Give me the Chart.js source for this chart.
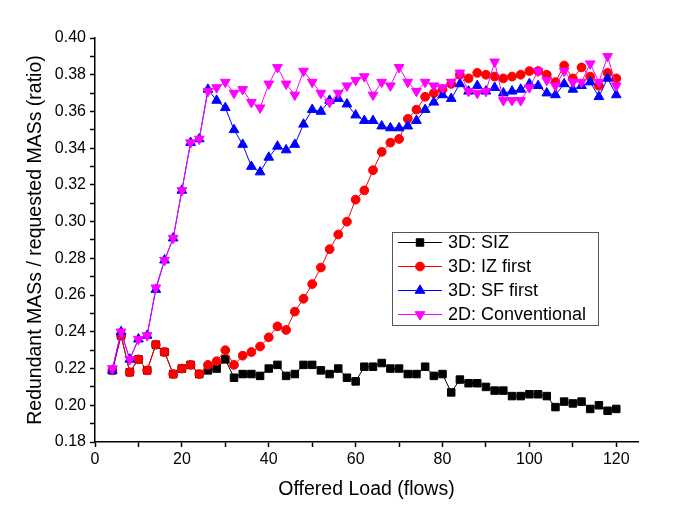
<!DOCTYPE html>
<html>
<head>
<meta charset="utf-8">
<script src="https://cdn.jsdelivr.net/npm/chart.js"></script>
<style>
  html, body { margin: 0; padding: 0; background: #fff; }
  #wrap { width: 685px; height: 509px; }
</style>
</head>
<body>
<div id="wrap"><canvas id="loadChart" width="685" height="509"></canvas></div>
<script>
const loads = [4, 6, 8, 10, 12, 14, 16, 18, 20, 22, 24, 26, 28, 30, 32, 34, 36, 38, 40,
    42, 44, 46, 48, 50, 52, 54, 56, 58, 60, 62, 64, 66, 68, 70, 72, 74, 76, 78, 80,
    82, 84, 86, 88, 90, 92, 94, 96, 98, 100, 102, 104, 106, 108, 110, 112, 114, 116, 118, 120];

const siz = [0.219, 0.238, 0.218, 0.225, 0.219, 0.233, 0.229, 0.217, 0.220, 0.222,
    0.217, 0.219, 0.220, 0.225, 0.215, 0.217, 0.217, 0.216, 0.220, 0.222,
    0.216, 0.217, 0.222, 0.222, 0.219, 0.217, 0.220, 0.215, 0.213, 0.221,
    0.221, 0.223, 0.220, 0.220, 0.217, 0.217, 0.221, 0.216, 0.217, 0.207,
    0.214, 0.212, 0.212, 0.210, 0.208, 0.208, 0.205, 0.205, 0.206, 0.206,
    0.205, 0.199, 0.202, 0.201, 0.202, 0.198, 0.200, 0.197, 0.198];

const izFirst = [0.219, 0.238, 0.218, 0.225, 0.219, 0.233, 0.229, 0.217, 0.220, 0.222,
    0.217, 0.222, 0.224, 0.230, 0.222, 0.227, 0.229, 0.232, 0.237, 0.243,
    0.241, 0.251, 0.258, 0.266, 0.275, 0.285, 0.293, 0.300, 0.312, 0.317,
    0.328, 0.338, 0.343, 0.345, 0.356, 0.361, 0.368, 0.370, 0.372, 0.375,
    0.380, 0.378, 0.381, 0.380, 0.379, 0.378, 0.379, 0.380, 0.382, 0.382,
    0.380, 0.376, 0.385, 0.378, 0.384, 0.379, 0.374, 0.381, 0.378];

const sfFirst = [0.219, 0.240, 0.225, 0.236, 0.238, 0.263, 0.279, 0.291, 0.317, 0.343,
    0.345, 0.372, 0.366, 0.362, 0.350, 0.342, 0.330, 0.327, 0.335, 0.341,
    0.339, 0.342, 0.353, 0.361, 0.360, 0.366, 0.367, 0.364, 0.358, 0.355,
    0.355, 0.352, 0.351, 0.351, 0.352, 0.355, 0.361, 0.365, 0.369, 0.367,
    0.375, 0.371, 0.374, 0.371, 0.373, 0.370, 0.371, 0.372, 0.375, 0.374,
    0.370, 0.369, 0.375, 0.372, 0.374, 0.376, 0.368, 0.378, 0.369];

const conventional = [0.220, 0.240, 0.225, 0.236, 0.238, 0.264, 0.279, 0.291, 0.317, 0.343,
    0.345, 0.371, 0.373, 0.376, 0.370, 0.372, 0.365, 0.362, 0.375, 0.384,
    0.375, 0.369, 0.382, 0.376, 0.370, 0.365, 0.370, 0.374, 0.377, 0.379,
    0.369, 0.376, 0.374, 0.384, 0.376, 0.371, 0.376, 0.374, 0.373, 0.376,
    0.381, 0.371, 0.370, 0.371, 0.387, 0.366, 0.366, 0.366, 0.373, 0.382,
    0.377, 0.374, 0.382, 0.376, 0.376, 0.386, 0.376, 0.390, 0.374];

const seriesNames = ["3D: SIZ", "3D: IZ first", "3D: SF first", "2D: Conventional"];

const FONT = '"Liberation Sans", Arial, sans-serif';

function pts(values) {
    return values.map((v, i) => ({ x: loads[i], y: v }));
}

function series(label, values, color, style, radius, rotation, order) {
    return {
        label: label,
        data: pts(values),
        borderColor: color,
        backgroundColor: color,
        borderWidth: 1,
        pointStyle: style,
        pointRadius: radius,
        pointRotation: rotation,
        pointBorderWidth: 1,
        pointBorderColor: color,
        pointBackgroundColor: color,
        tension: 0,
        order: order
    };
}

// legend drawn inside the plot, like the original
function marker(ctx, style, x, y, r, rot) {
    ctx.beginPath();
    if (style === 'rect') {
        const s = r * Math.SQRT1_2;
        ctx.rect(x - s, y - s, 2 * s, 2 * s);
    } else if (style === 'circle') {
        ctx.arc(x, y, r, 0, Math.PI * 2);
    } else {
        let a = rot * Math.PI / 180;
        for (let k = 0; k < 3; k++) {
            const px = x + Math.sin(a) * r, py = y - Math.cos(a) * r;
            if (k === 0) ctx.moveTo(px, py); else ctx.lineTo(px, py);
            a += Math.PI * 2 / 3;
        }
        ctx.closePath();
    }
    ctx.fill();
    ctx.stroke();
}

const boxLegend = {
    id: 'boxLegend',
    afterDraw(chart) {
        const ctx = chart.ctx;
        ctx.save();
        ctx.fillStyle = '#fff';
        ctx.fillRect(392, 232, 207, 93);
        ctx.strokeStyle = '#555';
        ctx.lineWidth = 1;
        ctx.strokeRect(392.5, 232.5, 206, 93);
        chart.data.datasets.forEach((ds, i) => {
            const y = 242.5 + i * 24;
            ctx.strokeStyle = ds.borderColor;
            ctx.fillStyle = ds.borderColor;
            ctx.lineWidth = 1;
            ctx.beginPath();
            ctx.moveTo(398, y);
            ctx.lineTo(442, y);
            ctx.stroke();
            marker(ctx, ds.pointStyle, 420, y, ds.pointRadius, ds.pointRotation);
            ctx.fillStyle = '#000';
            ctx.font = '18px ' + FONT;
            ctx.textBaseline = 'middle';
            ctx.textAlign = 'left';
            ctx.fillText(ds.label, 448, y + 1);
        });
        ctx.restore();
    }
};

const ctx = document.getElementById('loadChart').getContext('2d');

new Chart(ctx, {
    type: 'line',
    data: {
        datasets: [
            series(seriesNames[0], siz, '#000000', 'rect', 5.3, 0, 4),
            series(seriesNames[1], izFirst, '#ff0000', 'circle', 4.4, 0, 3),
            series(seriesNames[2], sfFirst, '#0000ff', 'triangle', 5.6, 0, 2),
            series(seriesNames[3], conventional, '#ff00ff', 'triangle', 5.6, 180, 1)
        ]
    },
    options: {
        responsive: false,
        animation: false,
        layout: { padding: { left: 0, top: 38, right: 47, bottom: 0 } },
        scales: {
            x: {
                type: 'linear',
                min: 0,
                max: 125,
                afterFit: s => { s.height = 67; },
                ticks: {
                    stepSize: 10,
                    includeBounds: false,
                    autoSkip: false,
                    maxRotation: 0,
                    padding: 3,
                    color: '#000',
                    font: { family: FONT, size: 16 },
                    callback: v => (v % 20 === 0 ? String(v) : '')
                },
                grid: {
                    drawOnChartArea: false,
                    drawTicks: true,
                    tickLength: 5,
                    tickColor: '#000',
                    tickWidth: 1.5
                },
                border: { display: true, color: '#000', width: 1.5 },
                title: {
                    display: true,
                    text: 'Offered Load (flows)',
                    color: '#000',
                    font: { family: FONT, size: 19.5 },
                    padding: { top: 0, bottom: 8 }
                }
            },
            y: {
                min: 0.18,
                max: 0.40,
                afterFit: s => { s.width = 95; },
                ticks: {
                    stepSize: 0.01,
                    autoSkip: false,
                    padding: 4,
                    color: '#000',
                    font: { family: FONT, size: 16 },
                    callback: v => (Math.round(v * 100) % 2 === 0 ? v.toFixed(2) : '')
                },
                grid: {
                    drawOnChartArea: false,
                    drawTicks: true,
                    tickLength: 5,
                    tickColor: '#000',
                    tickWidth: 1.5
                },
                border: { display: true, color: '#000', width: 1.5 },
                title: {
                    display: true,
                    text: 'Redundant MASs / requested MASs (ratio)',
                    color: '#000',
                    font: { family: FONT, size: 19.5 },
                    padding: { top: 24, bottom: 0 }
                }
            }
        },
        plugins: {
            legend: { display: false },
            tooltip: { enabled: false }
        }
    },
    plugins: [boxLegend]
});
</script>
</body>
</html>
